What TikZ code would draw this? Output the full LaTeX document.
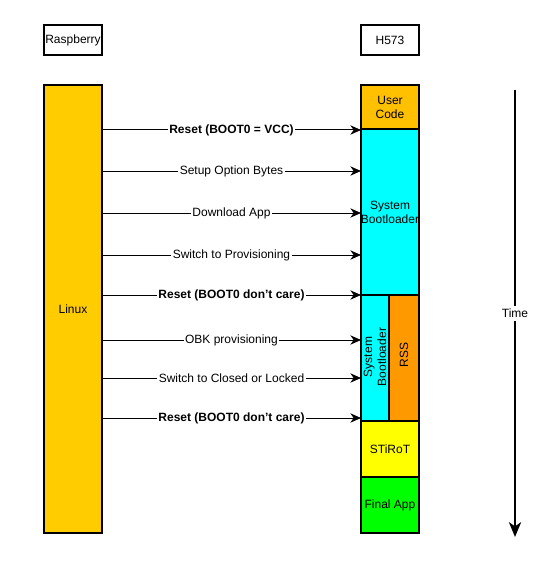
\documentclass[tikz,border=0pt]{standalone}
\usepackage{fontspec}
\setmainfont{Liberation Sans}
\usetikzlibrary{arrows.meta}
\definecolor{linuxc}{HTML}{FFCC00}
\definecolor{userc}{HTML}{FFC000}
\definecolor{cyanc}{HTML}{00FFFF}
\definecolor{rssc}{HTML}{FF9900}
\definecolor{stc}{HTML}{FFFF00}
\definecolor{appc}{HTML}{00FF00}
\newcommand{\apos}{{\char"27}}
\tikzset{
  blk/.style={draw=black, line width=0.9pt},
  lbl/.style={font=\fontsize{9pt}{10.5pt}\selectfont, align=center},
  msg/.style={-{Stealth[length=8pt,width=7pt,inset=2.5pt]}, line width=0.75pt},
  msglbl/.style={fill=white, inner sep=1pt, font=\fontsize{9pt}{10.5pt}\selectfont},
}
\begin{document}
\begin{tikzpicture}[x=0.75pt,y=-0.75pt]
\useasboundingbox (0,0) rectangle (556,563);
% headers
\draw[blk] (44,25) rectangle (102,55);
\node[lbl] (rasp) at (73,40) {Raspberry};
\draw[blk] (361,25) rectangle (419,55);
\node[lbl] (h573) at (390,40) {H573};
% Linux
\draw[blk, fill=linuxc] (44,85) rectangle (102,533);
\node[lbl] (linux) at (73,309) {Linux};
% right column
\draw[blk, fill=userc] (361,85) rectangle (419,129);
\node[lbl] (user) at (390,107) {User\\Code};
\draw[blk, fill=cyanc] (361,129) rectangle (419,295);
\node[lbl] (sb1) at (390,212) {System\\Bootloader};
\draw[blk, fill=cyanc] (361,295) rectangle (389,421);
\node[lbl, rotate=90] (sb2) at (375,357) {System\\Bootloader};
\draw[blk, fill=rssc] (389,295) rectangle (419,421);
\node[lbl, rotate=90] (rss) at (404,355) {RSS};
\draw[blk, fill=stc] (361,421) rectangle (419,477);
\node[lbl] (stirot) at (390,449) {STiRoT};
\draw[blk, fill=appc] (361,477) rectangle (419,533);
\node[lbl] (app) at (390,505) {Final App};
% message anchors
\foreach \n/\y in {1/130,2/171,3/213,4/255,5/295,6/340,7/378,8/418}{
  \coordinate (l\n) at (102,\y);
  \coordinate (r\n) at (361,\y);
}
\draw[msg] (l1) -- node[msglbl]{\textbf{Reset (BOOT0 = VCC)}} (r1);
\draw[msg] (l2) -- node[msglbl]{Setup Option Bytes} (r2);
\draw[msg] (l3) -- node[msglbl]{Download App} (r3);
\draw[msg] (l4) -- node[msglbl]{Switch to Provisioning} (r4);
\draw[msg] (l5) -- node[msglbl]{\textbf{Reset (BOOT0 don\apos t care)}} (r5);
\draw[msg] (l6) -- node[msglbl]{OBK provisioning} (r6);
\draw[msg] (l7) -- node[msglbl]{Switch to Closed or Locked} (r7);
\draw[msg] (l8) -- node[msglbl]{\textbf{Reset (BOOT0 don\apos t care)}} (r8);
% time arrow
\coordinate (t0) at (515,90);
\coordinate (t1) at (515,537);
\draw[line width=2.2pt, -{Stealth[length=11pt,width=9pt,inset=3pt]}] (t0) -- node[msglbl, inner sep=2pt]{Time} (t1);
\end{tikzpicture}
\end{document}
